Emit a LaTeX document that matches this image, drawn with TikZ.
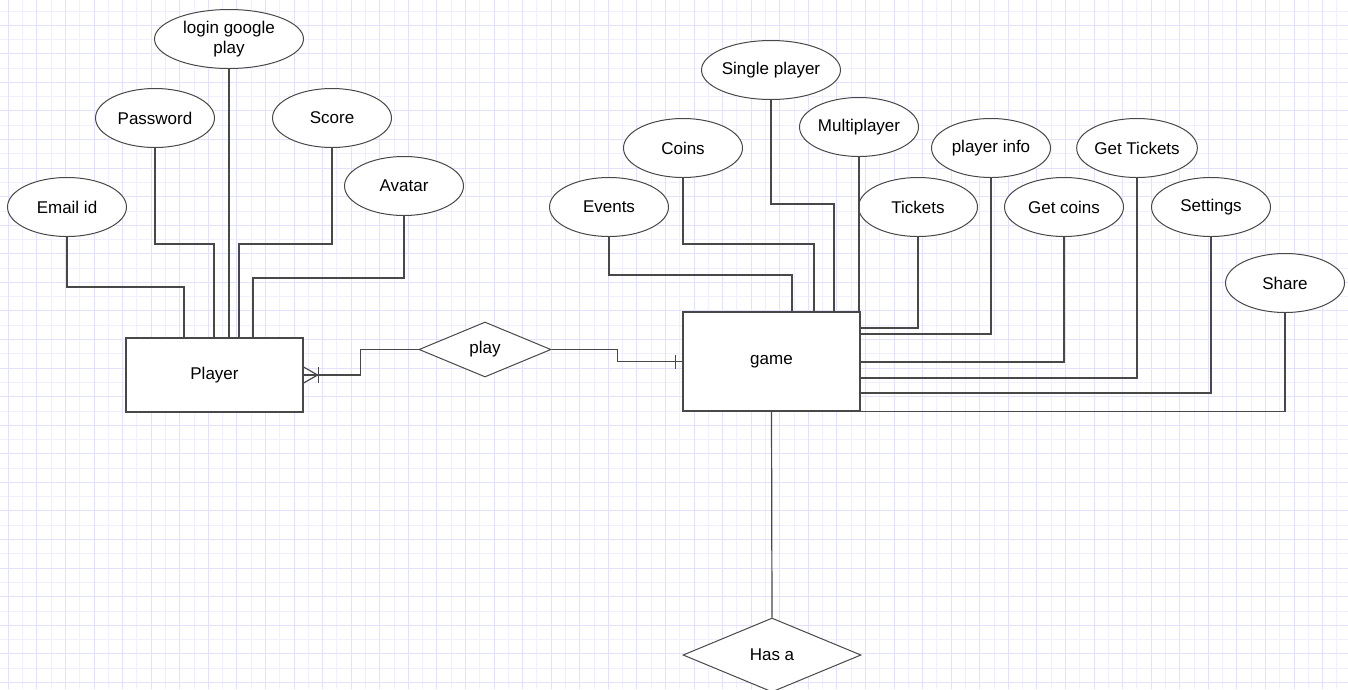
\documentclass[tikz,border=0pt]{standalone}
\usepackage{fontspec}
\setmainfont{Liberation Sans}
\usetikzlibrary{
	calc,
	positioning,
	shapes.geometric
}
\definecolor{GridMajor}{RGB}{226,226,252}
\definecolor{GridMinor}{RGB}{239,239,254}
\definecolor{LineGray}{RGB}{72,72,72}
\newcommand{\erfont}{\fontsize{17}{20}\selectfont}

\tikzset{
	attr/.style={ellipse, draw=LineGray, fill=white, line width=1pt, minimum width=119, minimum height=59, inner sep=0pt, align=center, font=\erfont},
	entity/.style={rectangle, draw=LineGray, fill=white, line width=1.2pt, minimum width=177, inner sep=0pt, font=\erfont},
	relation/.style={diamond, draw=LineGray, fill=white, line width=1pt, inner sep=0pt, font=\erfont},
	link/.style={draw=LineGray, line width=1.2pt},
	gridmajor/.style={draw=GridMajor, line width=1pt},
	gridminor/.style={draw=GridMinor, line width=0.8pt}
}

\begin{document}
\begin{tikzpicture}[x=1pt, y=-1pt]
		\useasboundingbox (0,0) rectangle (1348,689);
		\fill[white] (0,0) rectangle (1348,689);
		
		% background grid
		\foreach \k in {0,...,47} {
			\draw[gridminor] ({22.6+28.571*\k},0) -- ({22.6+28.571*\k},689);
		}
		\foreach \k in {0,...,24} {
			\draw[gridminor] (0,{10.9+28.571*\k}) -- (1348,{10.9+28.571*\k});
		}
		\foreach \k in {0,...,47} {
			\draw[gridmajor] ({8.3+28.571*\k},0) -- ({8.3+28.571*\k},689);
		}
		\foreach \k in {1,...,24} {
			\draw[gridmajor] (0,{-3.4+28.571*\k}) -- (1348,{-3.4+28.571*\k});
		}
		
		% entities and relations
		\node[entity, minimum height=74] (player) at (214.5,375) {Player};
		\node[entity, minimum height=99] (game) at (771.5,361.5) {game};
		\node[relation, minimum width=132, minimum height=55] (play) at (485,349.5) {play};
		\node[relation, minimum width=178, minimum height=74] (hasa) at (772,655) {Has a};
		
		% player attributes
		\node[attr] (email) at (67,207) {Email id};
		\node[attr] (password) at (155,118) {Password};
		\node[attr, minimum width=149] (login) at (229,39) {login google\\play};
		\node[attr] (score) at (332,118) {Score};
		\node[attr] (avatar) at (404,186) {Avatar};
		
		% game attributes
		\node[attr] (events) at (609,207) {Events};
		\node[attr] (coins) at (683,148) {Coins};
		\node[attr] (single) at (771,70) {Single player};
		\node[attr] (multi) at (859,127) {Multiplayer};
		\node[attr] (tickets) at (918,207) {Tickets};
		\node[attr] (pinfo) at (991,148) {player info};
		\node[attr] (getcoins) at (1064,207) {Get coins};
		\node[attr] (gettickets) at (1137,148) {Get Tickets};
		\node[attr] (settings) at (1211,207) {Settings};
		\node[attr] (share) at (1285,283) {Share};
		
		% attribute links of Player
		\foreach \n/\gx/\by in {email/184/287, password/214/244, score/239/244, avatar/253/278} {
			\draw[link] (\n.south) |- (\gx,\by) -- (\gx,0 |- player.north);
		}
		\draw[link] (login.south) -- (login.south |- player.north);
		
		% attribute links of game
		\foreach \n/\gx/\by in {events/792/275, coins/814/244, single/834/204} {
			\draw[link] (\n.south) |- (\gx,\by) -- (\gx,0 |- game.north);
		}
		\draw[link] (multi.south) -- (multi.south |- game.north);
		\foreach \n/\by in {tickets/328, pinfo/334, getcoins/362, gettickets/378, settings/393} {
			\draw[link] (\n.south) |- (game.east |- 0,\by);
		}
		\draw[link] (share.south) |- (game.south east);
		
		% relationships
		\draw[link] (player.east) -- ++(57,0) |- (play.west);
		\draw[link] ($(player.east)+(0,-8)$) -- ++(14,8) -- ($(player.east)+(0,8)$);
		\draw[link] ($(player.east)+(15,-8)$) -- ++(0,16);
		\draw[link] (play.east) -- ++(66,0) |- (game.west);
		\draw[link] ($(game.west)+(-7,-7)$) -- ++(0,14);
		\draw[link] (game.south) -- (hasa.north);
	\end{tikzpicture}
\end{document}
